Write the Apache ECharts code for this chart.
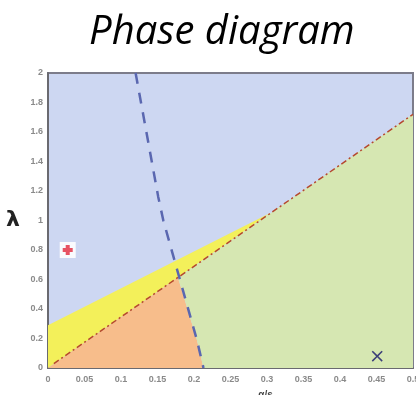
<!DOCTYPE html>
<html><head><meta charset="utf-8">
<script src="https://cdn.jsdelivr.net/npm/echarts@6/dist/echarts.min.js"></script>
<style>html,body{margin:0;padding:0;background:#fff}#c{width:416px;height:395px}</style>
</head><body><div id="c"></div>
<script>
const titleText = 'Phase diagram';
const xAxisName = 'α/s';
const yAxisName = 'λ';
const xRange = [0, 0.5];
const yRange = [0, 2];
// regions (x, λ)
const yellowRegion = [[0,0],[0,0.29],[0.305,1.053]];
const orangeRegion = [[0,0],[0.178,0.614],[0.204,0.19],[0.213,0]];
const greenRegion = [[0.178,0.614],[0.5,1.72],[0.5,0],[0.213,0],[0.204,0.19]];
// boundary lines
const dashDotLine = [[0.008,0.03],[0.5,1.72]];
const blueDashedLine = [[0.12,2],[0.151,1.16],[0.158,1.0],[0.171,0.77],[0.204,0.19],[0.213,0]];
// markers
const redPoint = [[0.027,0.8]];
const crossPoint = [[0.451,0.08]];

const chart = echarts.init(document.getElementById('c'));
function polySeries(pts, color){
  return {
    type:'custom', coordinateSystem:'cartesian2d', silent:true, clip:true,
    data:[[0,0]],
    renderItem:function(params, api){
      const p = pts.map(d=>api.coord(d));
      return {type:'polygon', shape:{points:p}, style:{fill:color}};
    },
    z:1
  };
}
const plusPath = 'path://M3,0H7V3H10V7H7V10H3V7H0V3H3Z';
const xPath = 'path://M0,1L1,0L5,4L9,0L10,1L6,5L10,9L9,10L5,6L1,10L0,9L4,5Z';
chart.setOption({
  animation:false,
  title:{text:titleText, left:84, top:8,
    textStyle:{fontFamily:'Open Sans', fontStyle:'italic', fontWeight:'normal', fontSize:40, color:'#000'}},
  grid:{left:48, right:3, top:73, bottom:27, containLabel:false, outerBoundsMode:'none',
    show:true, backgroundColor:'#cdd7f2', borderColor:'#7c7c8a', borderWidth:2},
  xAxis:{type:'value', min:xRange[0], max:xRange[1], interval:0.05,
    name:xAxisName, nameLocation:'middle', nameGap:22,
    nameTextStyle:{color:'#444', fontSize:10, fontWeight:'bold', padding:[0,0,0,70]},
    axisLine:{show:true, lineStyle:{color:'#6a6a70', width:2}},
    axisTick:{show:false}, splitLine:{show:false},
    axisLabel:{color:'#8a8a8a', fontSize:9, fontWeight:'bold', margin:7,
      formatter:v=>String(+v.toFixed(2))}},
  yAxis:{type:'value', min:yRange[0], max:yRange[1], interval:0.2,
    name:yAxisName, nameLocation:'middle', nameGap:28, nameRotate:0,
    nameTextStyle:{color:'#222', fontSize:22, fontWeight:'bold', fontFamily:'DejaVu Sans', padding:[0,0,10,0]},
    axisLine:{show:true, lineStyle:{color:'#6a6a70', width:2}},
    axisTick:{show:false}, splitLine:{show:false},
    axisLabel:{color:'#8a8a8a', fontSize:9, fontWeight:'bold', margin:5,
      formatter:v=>String(+v.toFixed(1))}},
  series:[
    polySeries(yellowRegion,'#f3f05a'),
    polySeries(orangeRegion,'#f7bd8b'),
    polySeries(greenRegion,'#d6e7b2'),
    {type:'line', data:dashDotLine, symbol:'none', z:3, silent:true,
      lineStyle:{color:'#b5482e', width:1.5, type:[6,3,2,3]}},
    {type:'line', data:blueDashedLine, symbol:'none', z:4, silent:true,
      lineStyle:{color:'#5a67b0', width:2.5, type:[11,9]}},
    {type:'scatter', data:redPoint, symbol:'rect', symbolSize:16, z:5,
      itemStyle:{color:'#ffffff', opacity:0.9}},
    {type:'scatter', data:redPoint, symbol:plusPath, symbolSize:10, z:6,
      itemStyle:{color:'#e2283c'}},
    {type:'scatter', data:crossPoint, symbol:xPath, symbolSize:11, z:6,
      itemStyle:{color:'#15156a'}}
  ]
});
</script></body></html>
